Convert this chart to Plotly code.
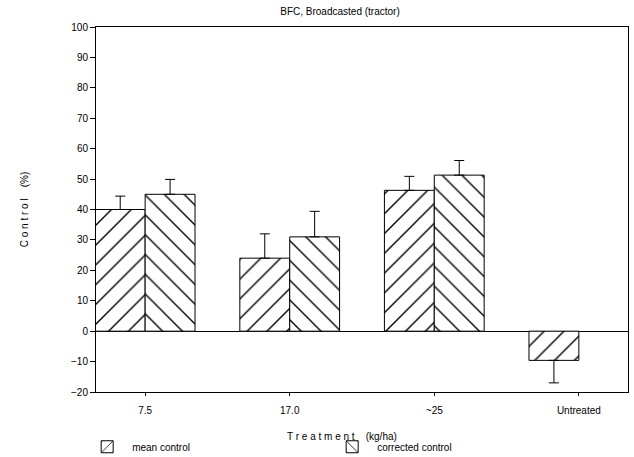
import plotly.graph_objects as go

categories = ["7.5", "17.0", "~25", "Untreated"]
mean_control = [40, 24, 46.3, -9.6]
mean_err_up = [4.4, 8, 4.6, 0]
mean_err_down = [0, 0, 0, 7.4]
corrected_control = [45, 31, 51.3, None]
corrected_err_up = [4.9, 8.4, 4.8, 0]

FONT = "Liberation Sans, Arial, sans-serif"

fig = go.Figure()
fig.add_trace(go.Bar(
    x=categories, y=mean_control, name="mean control",
    marker=dict(color="white", line=dict(color="black", width=1),
                pattern=dict(shape="/", fgcolor="black", fgopacity=1, bgcolor="white",
                             size=14, solidity=0.1)),
    error_y=dict(type="data", symmetric=False, array=mean_err_up, arrayminus=mean_err_down,
                 color="black", thickness=1, width=5),
))
fig.add_trace(go.Bar(
    x=categories, y=corrected_control, name="corrected control",
    marker=dict(color="white", line=dict(color="black", width=1),
                pattern=dict(shape="\\", fgcolor="black", fgopacity=1, bgcolor="white",
                             size=14, solidity=0.1)),
    error_y=dict(type="data", symmetric=False, array=corrected_err_up, arrayminus=[0, 0, 0, 0],
                 color="black", thickness=1, width=5),
))

fig.update_layout(
    width=634, height=457,
    margin=dict(l=96, r=6, t=27, b=65, autoexpand=False),
    paper_bgcolor="white", plot_bgcolor="white",
    font=dict(family=FONT, size=10, color="black"),
    barmode="group", bargap=0.31, bargroupgap=0,
    title=dict(text="BFC, Broadcasted (tractor)", x=340/634, xanchor="center",
               y=1 - 11/457, yanchor="middle", font=dict(size=10)),
    showlegend=True,
    legend=dict(orientation="h", x=-0.026, xanchor="left", y=-0.15, yanchor="middle",
                entrywidth=190, entrywidthmode="pixels", font=dict(size=10),
                bgcolor="rgba(0,0,0,0)", itemwidth=40),
)
fig.update_xaxes(
    type="category", range=[-0.34, 3.34], automargin=False,
    showline=True, linecolor="black", linewidth=1, mirror=True,
    ticks="outside", ticklen=3, tickcolor="black", showgrid=False,
    tickfont=dict(size=10), ticklabelstandoff=6,
)
fig.update_yaxes(
    range=[-20, 100], dtick=10, tick0=0, automargin=False,
    showline=True, linecolor="black", linewidth=1, mirror=True,
    ticks="outside", ticklen=5, tickcolor="black", showgrid=False,
    zeroline=True, zerolinecolor="black", zerolinewidth=1,
    tickfont=dict(size=10),
    title=dict(text="C o n t r o l    (%)", standoff=40, font=dict(size=10)),
)
fig.add_annotation(text="T r e a t m e n t    (kg/ha)", xref="paper", yref="paper",
                   x=(342 - 96) / 532, y=(392 - 436) / 365, showarrow=False,
                   xanchor="center", yanchor="middle", font=dict(size=10))

fig.write_html("out.html", config={"displayModeBar": False},
               post_script="document.body.style.margin='0';")
